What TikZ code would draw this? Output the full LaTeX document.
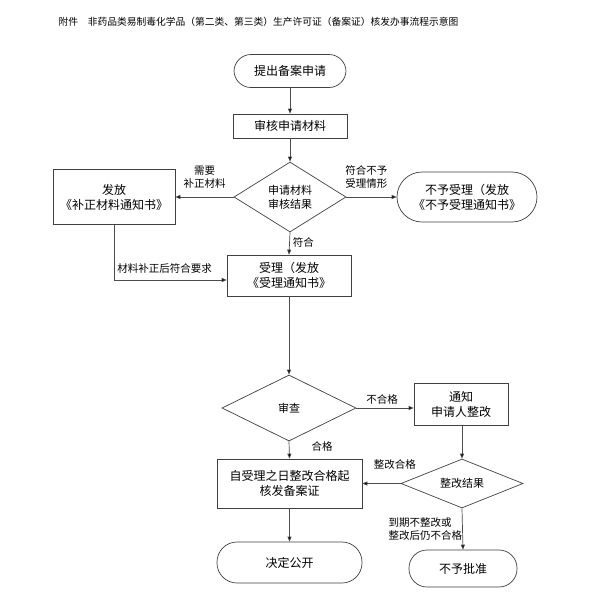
\documentclass[tikz,border=0pt]{standalone}
\usepackage{fontspec}
\setmainfont{Noto Sans CJK SC}
\usetikzlibrary{shapes.geometric,arrows.meta}
\begin{document}
\begin{tikzpicture}[x=1pt,y=-1pt,
  box/.style={draw=black!75,line width=0.7pt,minimum width=#1,align=center,font=\fontsize{12}{15}\selectfont,inner sep=0pt},
  pill/.style={draw=black!75,line width=0.7pt,rounded corners=17pt,align=center,font=\fontsize{12}{15}\selectfont,inner sep=0pt},
  dia/.style={draw=black!75,line width=0.7pt,diamond,aspect=#1,align=center,font=\fontsize{11}{14}\selectfont,inner sep=0pt},
  lbl/.style={font=\fontsize{10.5}{13}\selectfont,align=center,inner sep=0pt},
  arr/.style={draw=black!70,line width=0.7pt,-{Triangle[length=5pt,width=4pt,fill=black]}}]
\useasboundingbox[fill=white] (0,0) rectangle (596,600);
\node[font=\fontsize{9.75}{12}\selectfont,anchor=west] (title) at (55,22) {附件\quad 非药品类易制毒化学品（第二类、第三类）生产许可证（备案证）核发办事流程示意图};

\node[pill,minimum width=112pt,minimum height=33pt] (start) at (290,71) {提出备案申请};
\node[box,minimum width=114pt,minimum height=24pt] (rev) at (290,126) {审核申请材料};
\node[dia=1.6,minimum width=112pt,minimum height=70pt] (d1) at (290,197) {申请材料\\审核结果};
\node[box,minimum width=122pt,minimum height=55pt] (supp) at (114,197) {发放\\《补正材料通知书》};
\node[pill,minimum width=140pt,minimum height=50pt,rounded corners=25pt] (rej) at (467,197) {不予受理（发放\\《不予受理通知书》};
\node[box,minimum width=124pt,minimum height=41pt] (acc) at (289,275.5) {受理（发放\\《受理通知书》};
\node[dia=2,minimum width=134pt,minimum height=66pt] (d2) at (289,408) {审查};
\node[box,minimum width=94pt,minimum height=42pt] (notif) at (461,404) {通知\\申请人整改};
\node[box,minimum width=145pt,minimum height=49pt] (cert) at (289.5,483.5) {自受理之日整改合格起\\核发备案证};
\node[dia=2.4,minimum width=122pt,minimum height=49pt] (d3) at (462,483.5) {整改结果};
\node[pill,minimum width=145pt,minimum height=41pt,rounded corners=20pt] (pub) at (289.5,562.5) {决定公开};
\node[pill,minimum width=108pt,minimum height=37pt,rounded corners=18pt] (deny) at (463,568.5) {不予批准};

\draw[arr] (start) -- (rev);
\draw[arr] (rev) -- (d1);
\draw[arr] (d1.west) -- (supp.east) node[lbl,pos=0.5,above=8pt] {需要\\补正材料};
\draw[arr] (d1.east) -- (rej.west) node[lbl,pos=0.4,above=8pt] {符合不予\\受理情形};
\draw[arr] (d1.south) -- (acc.north) node[lbl,pos=0.45,right=3pt] {符合};
\coordinate (c1) at (supp.south |- 0,280);
\draw[arr] (supp.south) -- (c1) -- (c1 -| acc.west) node[lbl,pos=0.45,above=6pt] {材料补正后符合要求};
\draw[arr] (acc.south) -- (d2.north);
\draw[arr] (d2.east) -- (notif.west |- d2.east) node[lbl,pos=0.45,above=3pt] {不合格};
\draw[arr] (d2.south) -- (cert.north) node[lbl,pos=0.3,right=22pt] {合格};
\draw[arr] (notif.south -| d3.north) -- (d3.north);
\draw[arr] (d3.west) -- (cert.east) node[lbl,pos=0.15,above=14pt] {整改合格};
\draw[arr] (cert.south) -- (pub.north);
\draw[arr] (d3.south) -- (deny.north) node[lbl,pos=0.5,left=0pt,align=left] {到期不整改或\\整改后仍不合格};
\end{tikzpicture}
\end{document}
